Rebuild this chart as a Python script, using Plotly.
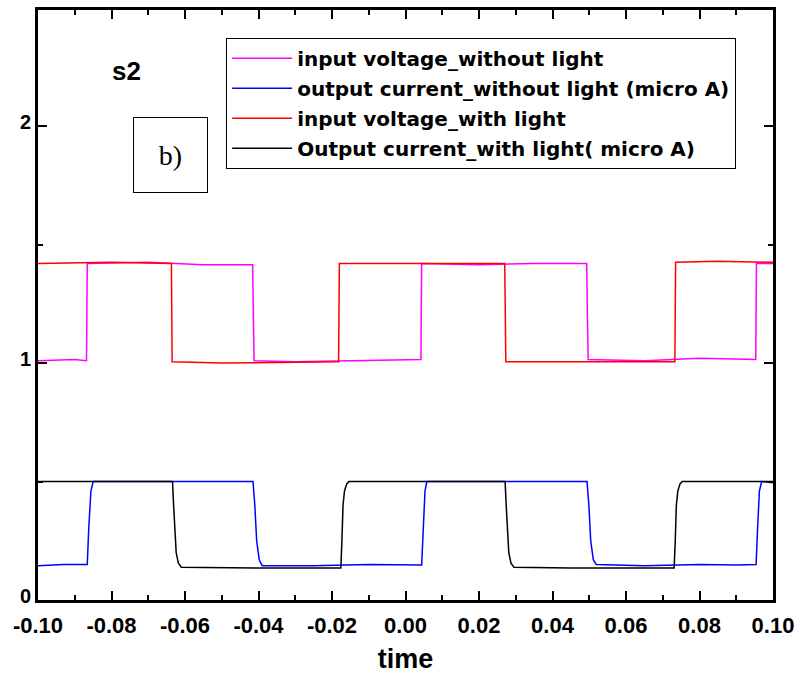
import plotly.graph_objects as go

# ---- data ----
names = [
    "input voltage_without light",
    "output current_without light (micro A)",
    "input voltage_with light",
    "Output current_with light( micro A)",
]
colors = ["#FF00FF", "#0000FF", "#FF0000", "#000000"]

t_in_dark = [-0.10, -0.0900, -0.0868, -0.0866, -0.0700, -0.0550, -0.0416, -0.0414, -0.0412,
             -0.0300, -0.0150, 0.0042, 0.0044, 0.0200, 0.0350, 0.0493, 0.0495, 0.0497,
             0.0650, 0.0800, 0.0953, 0.0955, 0.10]
v_in_dark = [1.010, 1.015, 1.010, 1.420, 1.425, 1.415, 1.415, 1.200, 1.010,
             1.005, 1.010, 1.015, 1.420, 1.415, 1.420, 1.420, 1.200, 1.015,
             1.010, 1.020, 1.015, 1.420, 1.420]

t_out_dark = [-0.10, -0.0930, -0.0880, -0.0866, -0.0862, -0.0856, -0.0850, -0.0700, -0.0550,
              -0.0415, -0.0410, -0.0405, -0.0398, -0.0390, -0.0250, -0.0100, 0.0044, 0.0048,
              0.0053, 0.0058, 0.0200, 0.0350, 0.0494, 0.0499, 0.0504, 0.0511, 0.0519,
              0.0650, 0.0800, 0.0900, 0.0954, 0.0958, 0.0963, 0.0969, 0.10]
v_out_dark = [0.145, 0.150, 0.150, 0.150, 0.300, 0.460, 0.500, 0.500, 0.500,
              0.500, 0.400, 0.250, 0.170, 0.145, 0.145, 0.150, 0.148, 0.300,
              0.460, 0.500, 0.500, 0.500, 0.500, 0.400, 0.250, 0.170, 0.150,
              0.145, 0.150, 0.148, 0.150, 0.300, 0.460, 0.500, 0.495]

t_in_light = [-0.10, -0.0800, -0.0637, -0.0635, -0.0500, -0.0300, -0.0182, -0.0180, -0.0050,
              0.0100, 0.0270, 0.0272, 0.0273, 0.0450, 0.0600, 0.0733, 0.0735, 0.0850, 0.10]
v_in_light = [1.420, 1.425, 1.420, 1.005, 1.000, 1.005, 1.005, 1.420, 1.420,
              1.420, 1.420, 1.150, 1.005, 1.005, 1.005, 1.005, 1.425, 1.430, 1.425]

t_out_light = [-0.10, -0.0800, -0.0634, -0.0631, -0.0628, -0.0624, -0.0618, -0.0610, -0.0400,
               -0.0250, -0.0176, -0.0173, -0.0170, -0.0166, -0.0160, -0.0154, 0.0000, 0.0150,
               0.0271, 0.0274, 0.0277, 0.0281, 0.0287, 0.0295, 0.0450, 0.0600, 0.0731,
               0.0734, 0.0737, 0.0741, 0.0747, 0.0753, 0.0900, 0.10]
v_out_light = [0.500, 0.500, 0.500, 0.400, 0.280, 0.200, 0.155, 0.138, 0.135,
               0.135, 0.135, 0.250, 0.400, 0.460, 0.490, 0.500, 0.500, 0.500,
               0.500, 0.400, 0.280, 0.200, 0.155, 0.138, 0.135, 0.135, 0.135,
               0.250, 0.400, 0.460, 0.490, 0.500, 0.500, 0.500]

x_ticks = [-0.10, -0.08, -0.06, -0.04, -0.02, 0.00, 0.02, 0.04, 0.06, 0.08, 0.10]
x_tick_labels = ["-0.10", "-0.08", "-0.06", "-0.04", "-0.02", "0.00", "0.02", "0.04", "0.06", "0.08", "0.10"]
y_ticks = [0, 1, 2]
y_tick_labels = ["0", "1", "2"]

series = [
    (t_in_dark, v_in_dark),
    (t_out_dark, v_out_dark),
    (t_in_light, v_in_light),
    (t_out_light, v_out_light),
]

fig = go.Figure()
for i, ((tx, vy), name, col) in enumerate(zip(series, names, colors)):
    fig.add_trace(go.Scatter(x=tx, y=vy, mode="lines", name=name,
                             legendgroup="g%d" % i,
                             line=dict(color=col, width=1.5)))

FONT = "Liberation Sans, Arial, sans-serif"

axis_common = dict(
    showline=True, linecolor="black", linewidth=3, mirror="ticks",
    ticks="inside", tickcolor="black", tickwidth=2, ticklen=9,
    showgrid=False, zeroline=False, automargin=False,
)

fig.update_xaxes(range=[-0.10, 0.10], tickvals=x_ticks, ticktext=x_tick_labels,
                 tickfont=dict(family=FONT, size=22, color="black", weight="bold"),
                 ticklabelstandoff=4,
                 minor=dict(ticks="inside", dtick=0.01, ticklen=5, tickwidth=2, tickcolor="black"),
                 title=dict(text="time", font=dict(family=FONT, size=27, color="black", weight="bold"),
                            standoff=12),
                 **axis_common)
fig.update_yaxes(range=[0, 2.49], tickvals=y_ticks, ticktext=y_tick_labels,
                 tickfont=dict(family=FONT, size=20, color="black", weight="bold"),
                 ticklabelshift=-4,
                 minor=dict(ticks="inside", tickvals=[0.5, 1.5], ticklen=5, tickwidth=2, tickcolor="black"),
                 **axis_common)

fig.update_layout(
    width=800, height=677,
    margin=dict(l=38, r=27, t=10, b=77),
    paper_bgcolor="white", plot_bgcolor="white",
    showlegend=True,
    legend=dict(x=0.256, y=0.953, xanchor="left", yanchor="top",
                bordercolor="black", borderwidth=1, bgcolor="white",
                font=dict(family="DejaVu Sans, sans-serif", size=20, color="black", weight="bold"),
                itemwidth=60, traceorder="grouped", tracegroupgap=1),
    annotations=[
        dict(text="s2", xref="paper", yref="paper", x=(126 - 38) / 735, y=(600 - 71) / 590,
             showarrow=False, font=dict(family=FONT, size=26, color="black", weight="bold"),
             xanchor="center", yanchor="middle"),
        dict(text="b)", xref="paper", yref="paper", x=(170 - 38) / 735, y=(600 - 155) / 590,
             showarrow=False, font=dict(family="Liberation Serif, Times New Roman, serif", size=28, color="black"),
             xanchor="center", yanchor="middle", bordercolor="black", borderwidth=1,
             width=71, height=72, bgcolor="white"),
    ],
)

fig.write_html("out.html")
